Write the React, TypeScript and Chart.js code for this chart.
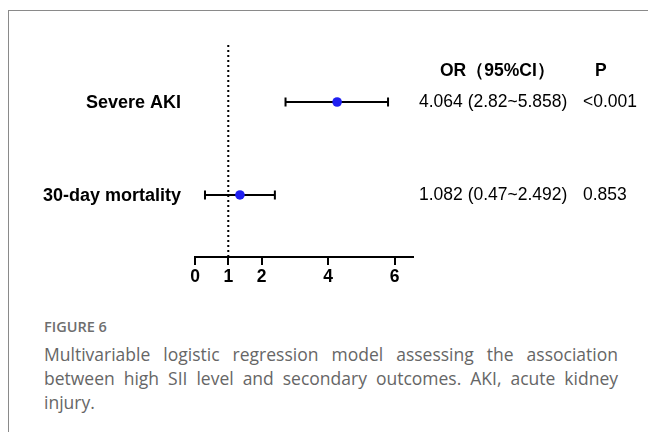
import React, { useEffect, useRef } from "react";
import { Chart, registerables } from "chart.js";

Chart.register(...registerables);

// ---- data ----
const outcomes = ["Severe AKI", "30-day mortality"];
const orPoint = [4.27, 1.35];
const ciLow = [2.72, 0.3];
const ciHigh = [5.8, 2.4];
const orText = ["4.064 (2.82~5.858)", "1.082 (0.47~2.492)"];
const pText = ["<0.001", "0.853"];
const xTicks = [0, 1, 2, 4, 6];
const refValue = 1;
const headerOR = "OR（95%CI）";
const headerP = "P";
const figureLabel = "FIGURE 6";
const captionLines = [
  "Multivariable logistic regression model assessing the association",
  "between high SII level and secondary outcomes. AKI, acute kidney",
  "injury.",
];

const FONT = "'Liberation Sans', Arial, sans-serif";
const CANVAS_W = 639;
const CANVAS_H = 300;

const forestPlugin = {
  id: "forest",
  beforeDatasetsDraw(chart: any) {
    const { ctx, chartArea, scales } = chart;
    const x = scales.x;
    const y = scales.y;
    ctx.save();
    ctx.strokeStyle = "#000";
    const rx = x.getPixelForValue(refValue);
    ctx.lineWidth = 2;
    ctx.setLineDash([2, 3]);
    ctx.beginPath();
    ctx.moveTo(rx, chartArea.top);
    ctx.lineTo(rx, chartArea.bottom);
    ctx.stroke();
    ctx.setLineDash([]);
    ctx.lineWidth = 2;
    outcomes.forEach((_, i) => {
      const py = y.getPixelForValue(outcomes.length - i);
      const x0 = x.getPixelForValue(ciLow[i]);
      const x1 = x.getPixelForValue(ciHigh[i]);
      ctx.beginPath();
      ctx.moveTo(x0, py);
      ctx.lineTo(x1, py);
      ctx.moveTo(x0, py - 4.5);
      ctx.lineTo(x0, py + 4.5);
      ctx.moveTo(x1, py - 4.5);
      ctx.lineTo(x1, py + 4.5);
      ctx.stroke();
    });
    ctx.restore();
  },
  afterDraw(chart: any) {
    const { ctx, scales } = chart;
    const y = scales.y;
    ctx.save();
    ctx.fillStyle = "#000";
    ctx.textBaseline = "middle";
    ctx.font = `bold 17.5px ${FONT}`;
    ctx.textAlign = "left";
    ctx.fillText(headerOR, 431, 60);
    ctx.fillText(headerP, 586, 60);
    outcomes.forEach((label, i) => {
      const py = y.getPixelForValue(outcomes.length - i);
      ctx.font = `bold 18px ${FONT}`;
      ctx.textAlign = "right";
      ctx.fillText(label, 172, py + 1);
      ctx.font = `17.5px ${FONT}`;
      ctx.textAlign = "left";
      ctx.fillText(orText[i], 410, py);
      ctx.fillText(pText[i], 574, py);
    });
    ctx.restore();
  },
};

function ForestChart() {
  const ref = useRef<HTMLCanvasElement | null>(null);
  useEffect(() => {
    if (!ref.current) return;
    const chart = new Chart(ref.current, {
      type: "scatter",
      data: {
        datasets: [
          {
            data: outcomes.map((_, i) => ({ x: orPoint[i], y: outcomes.length - i })),
            pointRadius: 4.8,
            pointHoverRadius: 4.8,
            backgroundColor: "#1f1ff2",
            borderWidth: 0,
          },
        ],
      },
      options: {
        animation: false,
        responsive: false,
        devicePixelRatio: 1,
        layout: { padding: { left: 186, right: 235, top: 34, bottom: 21 } },
        plugins: { legend: { display: false }, tooltip: { enabled: false } },
        scales: {
          x: {
            type: "linear",
            min: 0,
            max: 6.55,
            afterBuildTicks: (scale: any) => {
              scale.ticks = xTicks.map((v) => ({ value: v }));
            },
            grid: {
              display: true,
              drawOnChartArea: false,
              drawTicks: true,
              tickLength: 8,
              color: "#000",
              lineWidth: 2,
            },
            border: { display: true, color: "#000", width: 2 },
            ticks: {
              font: { family: FONT, size: 17.5, weight: "bold" },
              color: "#000",
              padding: 2,
              autoSkip: false,
              maxRotation: 0,
            },
          },
          y: {
            type: "linear",
            display: false,
            min: 0.333,
            max: 2.613,
          },
        },
      },
      plugins: [forestPlugin],
    });
    return () => chart.destroy();
  }, []);
  return (
    <canvas
      ref={ref}
      width={CANVAS_W}
      height={CANVAS_H}
      style={{ position: "absolute", left: 0, top: 0, width: CANVAS_W, height: CANVAS_H }}
    />
  );
}

export default function App() {
  return (
    <div
      style={{
        position: "fixed",
        left: 8,
        top: 10,
        width: 640,
        height: 422,
        boxSizing: "border-box",
        borderTop: "1px solid #8a8a8a",
        borderLeft: "1px solid #8a8a8a",
        background: "#fff",
        overflow: "hidden",
      }}
    >
      <ForestChart />
      <div
        style={{
          position: "absolute",
          left: 35,
          top: 307,
          fontFamily: "'Open Sans', sans-serif",
          fontWeight: 600,
          fontSize: 14.5,
          lineHeight: "18px",
          color: "#6e6e6e",
        }}
      >
        {figureLabel}
      </div>
      <div
        style={{
          position: "absolute",
          left: 35,
          top: 331,
          width: 574,
          fontFamily: "'Open Sans', sans-serif",
          fontSize: 17.5,
          lineHeight: "24px",
          color: "#666",
        }}
      >
        {captionLines.map((line, i) => (
          <div
            key={i}
            style={{
              textAlign: "justify",
              textAlignLast: i < captionLines.length - 1 ? "justify" : "left",
              whiteSpace: "nowrap",
            }}
          >
            {line}
          </div>
        ))}
      </div>
    </div>
  );
}
